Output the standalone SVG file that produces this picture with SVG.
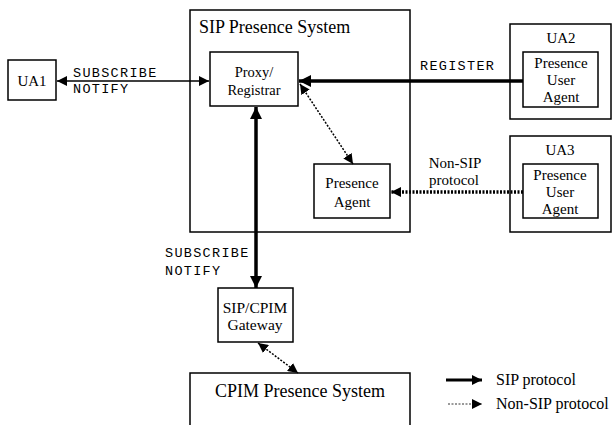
<svg xmlns="http://www.w3.org/2000/svg" width="612" height="425" viewBox="0 0 612 425">
  <defs>
    <style>
      .box { fill: #fff; stroke: #000; stroke-width: 1.5; }
      .frame { fill: none; stroke: #000; stroke-width: 1.5; }
      .serif { font-family: "Liberation Serif", "Times New Roman", serif; fill: #000; }
      .mono { font-family: "Liberation Mono", "Courier New", monospace; fill: #000; font-size: 13.5px; letter-spacing: 1.3px; }
      .sip { stroke: #000; fill: none; }
      .nonsip { stroke: #000; fill: none; stroke-dasharray: 2 1.5; }
    </style>
    <marker id="ah" viewBox="0 0 10 10" refX="10" refY="5" markerWidth="10" markerHeight="10" markerUnits="userSpaceOnUse" orient="auto-start-reverse">
      <path d="M0,0 L10,5 L0,10 Z" fill="#000"/>
    </marker>
    <marker id="ahBig" viewBox="0 0 10 10" refX="10" refY="5" markerWidth="12" markerHeight="12" markerUnits="userSpaceOnUse" orient="auto-start-reverse">
      <path d="M0,0 L10,5 L0,10 Z" fill="#000"/>
    </marker>
  </defs>

  <!-- outer systems -->
  <g id="sip-presence-system">
    <rect class="frame" x="190" y="10" width="220" height="222"/>
    <text class="serif" x="199" y="33" font-size="18">SIP Presence System</text>
  </g>
  <g id="cpim-presence-system">
    <path class="frame" d="M190,428 V373 H410 V428"/>
    <text class="serif" x="300" y="397" font-size="18" text-anchor="middle">CPIM Presence System</text>
  </g>

  <!-- nodes -->
  <g id="ua1">
    <rect class="box" x="8" y="60" width="48" height="40"/>
    <text class="serif" x="32" y="86" font-size="15" text-anchor="middle">UA1</text>
  </g>
  <g id="proxy-registrar">
    <rect class="box" x="210" y="52" width="88" height="54"/>
    <text class="serif" x="254" y="77" font-size="14.5" text-anchor="middle">Proxy/</text>
    <text class="serif" x="254" y="95" font-size="14.5" text-anchor="middle">Registrar</text>
  </g>
  <g id="presence-agent">
    <rect class="box" x="314" y="164" width="76" height="54"/>
    <text class="serif" x="352" y="188" font-size="15" text-anchor="middle">Presence</text>
    <text class="serif" x="352" y="207" font-size="15" text-anchor="middle">Agent</text>
  </g>
  <g id="ua2">
    <rect class="frame" x="510" y="24" width="101" height="95"/>
    <text class="serif" x="561" y="43" font-size="15" text-anchor="middle">UA2</text>
    <rect class="box" x="523" y="52" width="75" height="55"/>
    <text class="serif" x="561" y="68" font-size="15" text-anchor="middle">Presence</text>
    <text class="serif" x="561" y="85" font-size="15" text-anchor="middle">User</text>
    <text class="serif" x="561" y="102" font-size="15" text-anchor="middle">Agent</text>
  </g>
  <g id="ua3">
    <rect class="frame" x="510" y="136" width="101" height="96"/>
    <text class="serif" x="560" y="155" font-size="15" text-anchor="middle">UA3</text>
    <rect class="box" x="523" y="164" width="75" height="54"/>
    <text class="serif" x="560" y="180" font-size="15" text-anchor="middle">Presence</text>
    <text class="serif" x="560" y="197" font-size="15" text-anchor="middle">User</text>
    <text class="serif" x="560" y="214" font-size="15" text-anchor="middle">Agent</text>
  </g>
  <g id="gateway">
    <rect class="box" x="218" y="288" width="75" height="54"/>
    <text class="serif" x="255" y="313" font-size="15.5" text-anchor="middle">SIP/CPIM</text>
    <text class="serif" x="255" y="330" font-size="15.5" text-anchor="middle">Gateway</text>
  </g>

  <!-- connectors -->
  <g id="connectors">
    <line class="sip" x1="57" y1="81" x2="209" y2="81" stroke-width="1.5" marker-start="url(#ah)" marker-end="url(#ah)"/>
    <line class="sip" x1="523" y1="81" x2="299" y2="81" stroke-width="3.5" marker-end="url(#ahBig)"/>
    <line class="sip" x1="256" y1="107" x2="256" y2="288" stroke-width="3.5" marker-start="url(#ahBig)" marker-end="url(#ahBig)"/>
    <line class="nonsip" x1="300" y1="84" x2="353" y2="164" stroke-width="1.5" marker-start="url(#ah)" marker-end="url(#ah)"/>
    <line class="nonsip" x1="523" y1="192" x2="391" y2="192" stroke-width="3.5" stroke-dasharray="4 1.5" marker-end="url(#ah)"/>
    <line class="nonsip" x1="258" y1="343" x2="298" y2="373" stroke-width="1.5" marker-start="url(#ah)" marker-end="url(#ah)"/>
  </g>

  <!-- connector labels -->
  <g id="labels">
    <text class="mono" x="73" y="77">SUBSCRIBE</text>
    <text class="mono" x="73" y="93">NOTIFY</text>
    <text class="mono" x="420" y="70">REGISTER</text>
    <text class="serif" x="455" y="168" font-size="15" text-anchor="middle">Non-SIP</text>
    <text class="serif" x="454" y="185" font-size="15" text-anchor="middle">protocol</text>
    <text class="mono" x="165" y="257">SUBSCRIBE</text>
    <text class="mono" x="165" y="275">NOTIFY</text>
  </g>

  <!-- legend -->
  <g id="legend">
    <line class="sip" x1="446" y1="380" x2="482" y2="380" stroke-width="3" marker-end="url(#ah)"/>
    <text class="serif" x="496" y="385" font-size="16">SIP protocol</text>
    <line class="nonsip" x1="448" y1="404" x2="482" y2="404" stroke-width="0.8" stroke-dasharray="1.5 1" marker-end="url(#ah)"/>
    <text class="serif" x="496" y="409" font-size="16">Non-SIP protocol</text>
  </g>
</svg>
